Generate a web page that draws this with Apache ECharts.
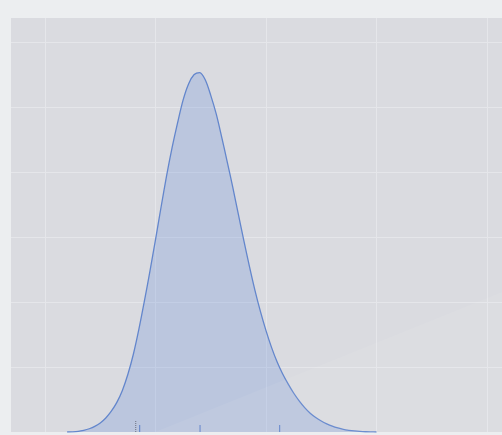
<!DOCTYPE html>
<html>
<head>
  <meta charset="utf-8" />
  <title>density</title>
  <script src="https://cdn.jsdelivr.net/npm/echarts@6/dist/echarts.min.js"></script>
  <style>
    html, body {
      margin: 0;
      padding: 0;
      background: #eceef0;
    }
    #main {
      width: 502px;
      height: 435px;
    }
  </style>
</head>
<body>
<div id="main"></div>
<script>
  // density curve, every half unit of x
  var densityX = [2, 2.5, 3, 3.5, 4, 4.5, 5, 5.5, 6, 6.5, 7, 7.5, 8, 8.5, 9, 9.5, 10, 10.5, 11, 11.5, 12, 12.5, 13, 13.5,
    14, 14.5, 15, 15.5, 16, 16.5, 17, 17.5, 18, 18.5, 19, 19.5, 20, 20.5, 21, 21.5, 22, 22.5, 23, 23.5, 24, 24.5,
    25, 25.5, 26, 26.5, 27, 27.5, 28, 28.5, 29, 29.5, 30];
  var densityY = [0, 0.00015, 0.0005, 0.0013, 0.0025, 0.0043, 0.007, 0.0108, 0.016, 0.0228, 0.032, 0.0444, 0.060, 0.0793,
    0.101, 0.124, 0.148, 0.1729, 0.197, 0.2187, 0.238, 0.2555, 0.268, 0.275,
    0.2765, 0.271, 0.259, 0.2445, 0.2265, 0.2075, 0.188, 0.1674, 0.147, 0.1274, 0.109, 0.0926, 0.078, 0.0651, 0.054, 0.0448,
    0.037, 0.030, 0.024, 0.0188, 0.0145, 0.0112, 0.0085, 0.0063, 0.0045, 0.0031, 0.002, 0.0013, 0.0008, 0.00044, 0.0002,
    0.00008, 0];
  // short marks on the baseline
  var quantileX = [8.57, 14.03, 21.24];
  var dottedX = [8.21];

  var myChart = echarts.init(document.getElementById('main'));

  var curve = [];
  for (var i = 0; i < densityX.length; i++) {
    curve.push([densityX[i], densityY[i]]);
  }

  function rugItem(h, color, dash) {
    return function (params, api) {
      var p = api.coord([api.value(0), 0]);
      return {
        type: 'line',
        shape: { x1: p[0], y1: p[1], x2: p[0], y2: p[1] - h },
        style: { stroke: color, lineWidth: 1, lineDash: dash }
      };
    };
  }

  var option = {
    backgroundColor: '#eceef0',
    animation: false,
    grid: {
      left: 11, right: 0, top: 18, bottom: 3,
      show: true,
      backgroundColor: '#dadbe0',
      borderWidth: 0
    },
    xAxis: {
      type: 'value',
      min: -3.08,
      max: 41.36,
      splitNumber: 4,
      axisLine: { show: false },
      axisTick: { show: false },
      axisLabel: { show: false },
      splitLine: { show: true, showMinLine: false, showMaxLine: false, lineStyle: { color: '#e5e6ea', width: 1 } }
    },
    yAxis: {
      type: 'value',
      min: 0,
      max: 0.3185,
      splitNumber: 6,
      axisLine: { show: false },
      axisTick: { show: false },
      axisLabel: { show: false },
      splitLine: { show: true, showMinLine: false, showMaxLine: false, lineStyle: { color: '#e5e6ea', width: 1 } }
    },
    graphic: [{
      // faint light sheen in the lower right corner
      type: 'polygon',
      z: 100,
      silent: true,
      shape: { points: [[155, 432], [502, 292], [502, 432]] },
      style: { fill: 'rgba(255,255,255,0.06)' }
    }],
    series: [
      {
        type: 'line',
        data: curve,
        smooth: 0.3,
        symbol: 'none',
        lineStyle: { color: '#6386cc', width: 1.3 },
        areaStyle: { color: 'rgba(95,135,215,0.36)' },
        z: 2
      },
      {
        type: 'custom',
        data: quantileX.map(function (v) { return [v]; }),
        renderItem: rugItem(7, '#5b7fc8', null),
        z: 3
      },
      {
        type: 'custom',
        data: dottedX.map(function (v) { return [v]; }),
        renderItem: rugItem(12, '#6b7080', [1, 1]),
        z: 3
      }
    ]
  };
  myChart.setOption(option);
</script>
</body>
</html>
